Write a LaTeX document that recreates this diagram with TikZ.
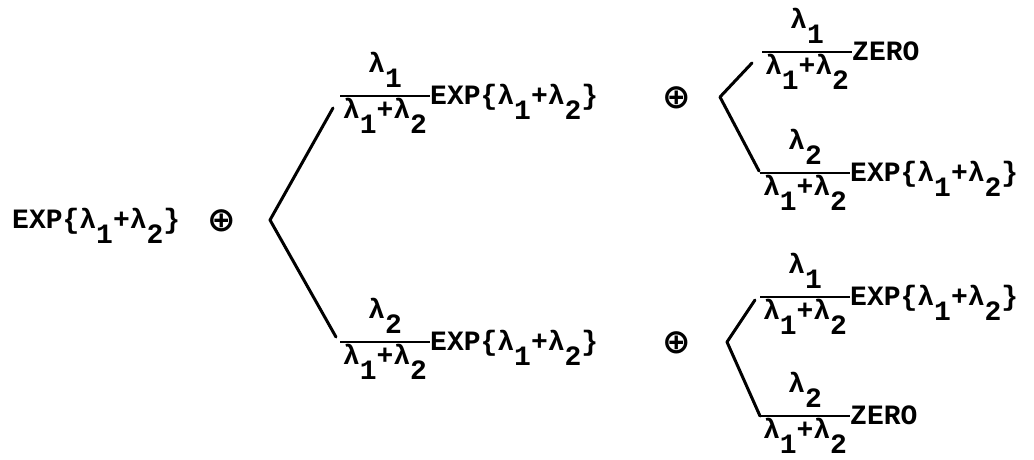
\documentclass[tikz,border=0pt]{standalone}
\usepackage{fontspec}
\setmainfont{Liberation Mono}
\newfontfamily\symfont{DejaVu Sans}
\usetikzlibrary{calc}
\newcommand{\lw}[1]{\raisebox{-0.57em}{#1}}
\newcommand{\expl}{EXP\{λ\lw{1}+λ\lw{2}\}}
\newcommand{\denom}{λ\lw{1}+λ\lw{2}}
\tikzset{
  txt/.style={inner sep=0pt, font=\fontsize{28}{30}\selectfont\bfseries},
  opsym/.style={inner sep=0pt, font=\fontsize{34}{36}\selectfont\symfont\bfseries},
  brk/.style={line width=3pt, line cap=round, line join=round},
  fbar/.style={line width=2.6pt}
}
% #1 name, #2 x, #3 y of bar left end, #4 numerator, #5 label
\newcommand{\frcbranch}[5]{%
  \coordinate (#1) at (#2,#3);
  \coordinate (#1e) at ($(#1)+(90,0)$);
  \draw[fbar] (#1) -- (#1e);
  \node[txt, anchor=base] (#1n) at ($(#1)+(45,-24)$) {#4};
  \node[txt, anchor=base] (#1d) at ($(#1)+(45,22)$) {\denom};
  \node[txt, anchor=base west] (#1l) at ($(#1e)+(0,8)$) {#5};
}
\begin{document}
\begin{tikzpicture}[x=1pt,y=-1pt]
\useasboundingbox (0,0) rectangle (1034,459);
% root
\node[txt, anchor=base west] (root) at (12,228) {\expl};
\node[opsym] (op1) at (222,221) {⊕};
\coordinate (v1) at (270,220);
\coordinate (u1) at (333,108);
\coordinate (d1) at (336,337);
\draw[brk] (u1) -- (v1) -- (d1);
% middle branches
\frcbranch{ma}{340}{96}{λ\lw{1}}{\expl}
\frcbranch{mb}{340}{342}{λ\lw{2}}{\expl}
\node[opsym] (op2) at (677,98) {⊕};
\node[opsym] (op3) at (677,343) {⊕};
% right upper bracket
\coordinate (v2) at (720,97);
\coordinate (u2) at (752,63);
\coordinate (d2) at (759,171);
\draw[brk] (u2) -- (v2) -- (d2);
\frcbranch{ra}{762}{52}{λ\lw{1}}{ZERO}
\frcbranch{rb}{760}{173}{λ\lw{2}}{\expl}
% right lower bracket
\coordinate (v3) at (727,342);
\coordinate (u3) at (755,300);
\coordinate (d3) at (760,416);
\draw[brk] (u3) -- (v3) -- (d3);
\frcbranch{rc}{760}{297}{λ\lw{1}}{\expl}
\frcbranch{rd}{760}{416}{λ\lw{2}}{ZERO}
\end{tikzpicture}
\end{document}
